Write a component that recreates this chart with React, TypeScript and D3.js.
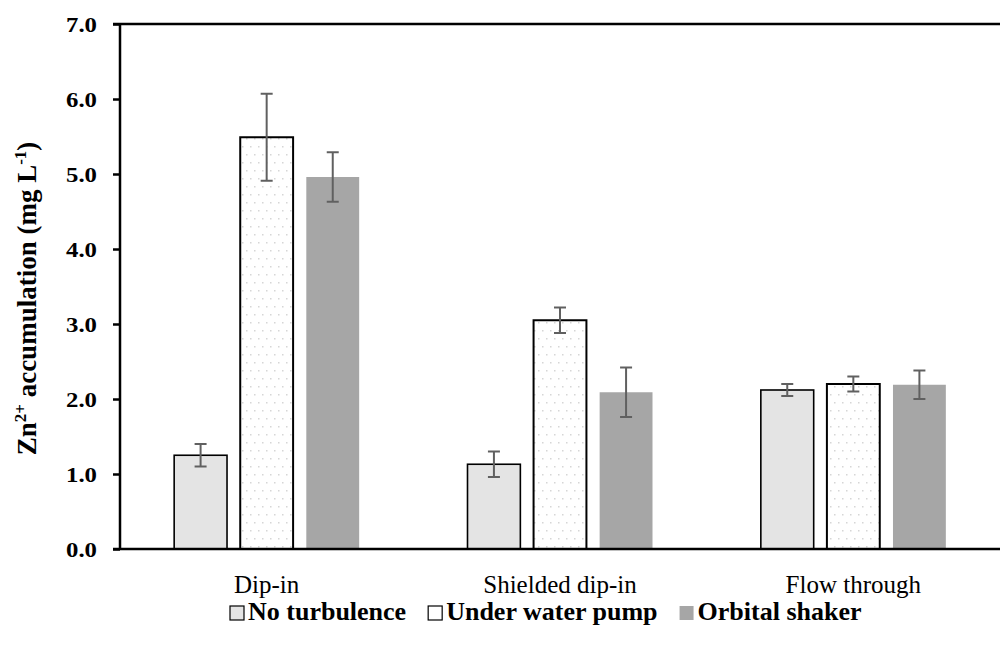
import { useEffect, useRef } from 'react';
import * as d3 from 'd3';

const categories = ['Dip-in', 'Shielded dip-in', 'Flow through'];
const seriesNames = ['No turbulence', 'Under water pump', 'Orbital shaker'];
const noTurbulence = [1.25, 1.13, 2.12];
const noTurbulenceErr = [0.15, 0.17, 0.08];
const waterPump = [5.49, 3.05, 2.2];
const waterPumpErr = [0.58, 0.17, 0.1];
const orbitalShaker = [4.96, 2.09, 2.19];
const orbitalShakerErr = [0.33, 0.33, 0.19];
const yTicks = [0, 1, 2, 3, 4, 5, 6, 7];

const W = 1000;
const H = 652;

export default function App() {
  const svgRef = useRef<SVGSVGElement>(null);

  useEffect(() => {
    const svg = d3.select(svgRef.current);
    svg.selectAll('*').remove();

    const left = 120;
    const right = 1000;
    const top = 24;
    const bottom = 549;
    const font = '"Liberation Serif", "Times New Roman", serif';

    const values = [noTurbulence, waterPump, orbitalShaker];
    const errs = [noTurbulenceErr, waterPumpErr, orbitalShakerErr];
    const fills = ['#e4e4e4', 'url(#dots)', '#a6a6a6'];
    const strokes = ['#000', '#000', 'none'];

    // dotted pattern for the pump bars
    const defs = svg.append('defs');
    const pat = defs
      .append('pattern')
      .attr('id', 'dots')
      .attr('width', 16)
      .attr('height', 16)
      .attr('patternUnits', 'userSpaceOnUse');
    pat.append('rect').attr('width', 16).attr('height', 16).attr('fill', '#fff');
    [[2, 2], [10, 2], [6, 10], [14, 10]].forEach(([cx, cy]) => {
      pat.append('rect').attr('x', cx).attr('y', cy).attr('width', 1.5).attr('height', 1.5).attr('fill', '#d6d6d6');
    });

    const x0 = d3.scaleBand().domain(categories).range([left, right]);
    const x1 = d3.scaleBand().domain(seriesNames).range([-92.5, 92.5]).paddingInner(0.2);
    const y = d3.scaleLinear().domain([0, 7]).range([bottom, top]);

    // bars
    seriesNames.forEach((s, si) => {
      svg
        .append('g')
        .selectAll('rect')
        .data(categories)
        .join('rect')
        .attr('x', (c) => x0(c)! + x0.bandwidth() / 2 + x1(s)!)
        .attr('y', (c, i) => y(values[si][i]))
        .attr('width', x1.bandwidth())
        .attr('height', (c, i) => bottom - y(values[si][i]))
        .attr('fill', fills[si])
        .attr('stroke', strokes[si])
        .attr('stroke-width', si === 1 ? 2 : 1.6);
    });

    // error bars
    seriesNames.forEach((s, si) => {
      const g = svg.append('g').attr('stroke', '#606060').attr('stroke-width', 2);
      categories.forEach((c, i) => {
        const cx = x0(c)! + x0.bandwidth() / 2 + x1(s)! + x1.bandwidth() / 2;
        const hi = y(values[si][i] + errs[si][i]);
        const lo = y(values[si][i] - errs[si][i]);
        g.append('line').attr('x1', cx).attr('x2', cx).attr('y1', hi).attr('y2', lo);
        g.append('line').attr('x1', cx - 6).attr('x2', cx + 6).attr('y1', hi).attr('y2', hi);
        g.append('line').attr('x1', cx - 6).attr('x2', cx + 6).attr('y1', lo).attr('y2', lo);
      });
    });

    // y axis
    const yAxis = svg
      .append('g')
      .attr('transform', `translate(${left},0)`)
      .call(d3.axisLeft(y).tickValues(yTicks).tickSize(7).tickFormat(() => ''));
    yAxis.select('.domain').attr('stroke', '#000').attr('stroke-width', 2.5).attr('d', `M0,${top}V${bottom}`);
    yAxis.selectAll('.tick line').attr('stroke', '#000').attr('stroke-width', 2.5);
    svg
      .append('g')
      .selectAll('text')
      .data(yTicks)
      .join('text')
      .attr('transform', (t) => `translate(97,${y(t) + 7.5}) scale(1.18,1)`)
      .attr('text-anchor', 'end')
      .attr('font-family', font)
      .attr('font-size', 21)
      .attr('font-weight', 'bold')
      .text((t) => d3.format('.1f')(t));

    // top frame and x axis line
    svg.append('line').attr('x1', left - 7).attr('x2', right).attr('y1', top).attr('y2', top).attr('stroke', '#000').attr('stroke-width', 2.5);
    svg.append('line').attr('x1', left - 7).attr('x2', right).attr('y1', bottom).attr('y2', bottom).attr('stroke', '#000').attr('stroke-width', 2.5);

    // category labels
    svg
      .append('g')
      .selectAll('text')
      .data(categories)
      .join('text')
      .attr('x', (c) => x0(c)! + x0.bandwidth() / 2)
      .attr('y', 593)
      .attr('text-anchor', 'middle')
      .attr('font-family', font)
      .attr('font-size', 25)
      .text((c) => c);

    // y title
    const title = svg
      .append('text')
      .attr('transform', `translate(36,${(top + bottom) / 2 + 12}) rotate(-90)`)
      .attr('text-anchor', 'middle')
      .attr('font-family', font)
      .attr('font-size', 27)
      .attr('font-weight', 'bold');
    title.append('tspan').text('Zn');
    title.append('tspan').attr('font-size', 17).attr('dy', -10).text('2+');
    title.append('tspan').attr('dy', 10).text(' accumulation (mg L');
    title.append('tspan').attr('font-size', 17).attr('dy', -10).text('-1');
    title.append('tspan').attr('dy', 10).text(')');

    // legend, laid out one after the other
    const leg = svg.append('g');
    const legY = 620;
    let lx = 230;
    seriesNames.forEach((s, si) => {
      leg
        .append('rect')
        .attr('x', lx)
        .attr('y', legY - 14)
        .attr('width', 14)
        .attr('height', 14)
        .attr('fill', si === 1 ? '#fff' : fills[si])
        .attr('stroke', strokes[si])
        .attr('stroke-width', 1.2);
      const t = leg
        .append('text')
        .attr('x', lx + 18)
        .attr('y', legY)
        .attr('font-family', font)
        .attr('font-size', 26)
        .attr('font-weight', 'bold')
        .text(s);
      const w = (t.node() as SVGTextElement).getComputedTextLength();
      lx += 18 + w + 22;
    });
  }, []);

  return <svg ref={svgRef} width={W} height={H} style={{ position: 'absolute', left: 0, top: 0 }} />;
}
